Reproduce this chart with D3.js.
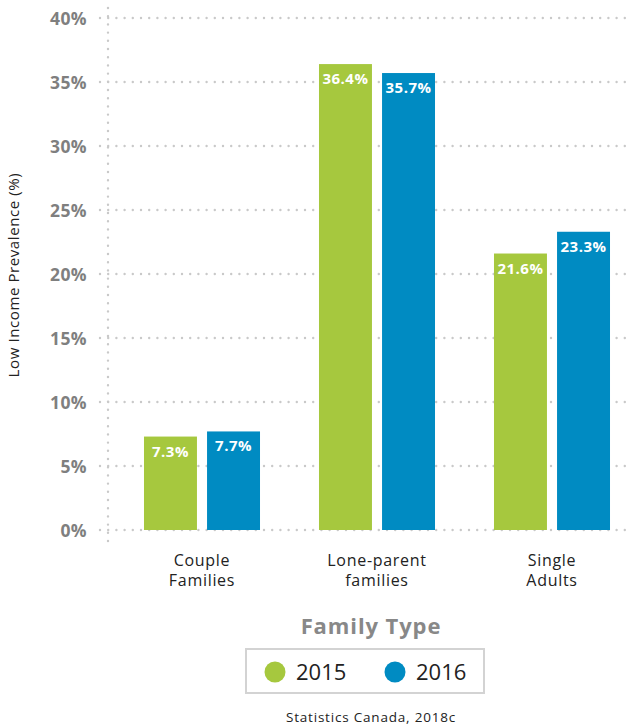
<!DOCTYPE html>
<html>
<head>
<meta charset="utf-8">
<script src="https://cdn.jsdelivr.net/npm/d3@7"></script>
<style>
  body { margin: 0; background: #fff; }
  svg { display: block; font-family: "Open Sans", "Noto Sans", sans-serif; }
</style>
</head>
<body>
<svg id="chart" width="635" height="727"></svg>
<script>
// Low income prevalence by family type
const categories = [["Couple", "Families"], ["Lone-parent", "families"], ["Single", "Adults"]];
const years = ["2015", "2016"];
const values2015 = [7.3, 36.4, 21.6];
const values2016 = [7.7, 35.7, 23.3];
const yTicks = [0, 5, 10, 15, 20, 25, 30, 35, 40];
const colors = ["#a6c83e", "#008bc2"];

const svg = d3.select("#chart");
const y = d3.scaleLinear().domain([0, 40]).range([530, 18]);
const x0 = d3.scaleBand().domain(d3.range(categories.length)).range([114.5, 639.5])
  .paddingInner(0.337).paddingOuter(0.1685);
const x1 = d3.scaleBand().domain(years).range([0, x0.bandwidth()]).paddingInner(0.16);

// horizontal dotted gridlines
svg.append("g").selectAll("line").data(yTicks).join("line")
  .attr("x1", 100).attr("x2", 632)
  .attr("y1", d => y(d)).attr("y2", d => y(d))
  .attr("stroke", "#c9c9c9").attr("stroke-width", 2.4)
  .attr("stroke-linecap", "round").attr("stroke-dasharray", "0 8.2");

// vertical dotted axis
svg.append("line")
  .attr("x1", 108).attr("x2", 108).attr("y1", 8).attr("y2", 541)
  .attr("stroke", "#c9c9c9").attr("stroke-width", 2.4)
  .attr("stroke-linecap", "round").attr("stroke-dasharray", "0 8.2");

// y tick labels
const yAxis = d3.axisLeft(y).tickValues(yTicks).tickFormat(d => d + "%").tickSize(0).tickPadding(0);
const ga = svg.append("g").attr("transform", "translate(87,0)").call(yAxis);
ga.select(".domain").remove();
ga.selectAll("text")
  .attr("fill", "#7f7f7f").attr("font-size", 17.5).attr("font-weight", 700)
  .attr("letter-spacing", 0.4)
  .attr("font-family", "'Open Sans', sans-serif").attr("dy", "0.35em");

// bars
const series = [values2015, values2016];
const groups = svg.append("g").selectAll("g").data(categories).join("g")
  .attr("transform", (d, i) => `translate(${x0(i)},0)`);

groups.each(function(c, i) {
  const g = d3.select(this);
  years.forEach((yr, k) => {
    const v = series[k][i];
    g.append("rect")
      .attr("x", x1(yr)).attr("width", x1.bandwidth())
      .attr("y", y(v)).attr("height", y(0) - y(v))
      .attr("fill", colors[k]);
    g.append("text")
      .attr("x", x1(yr) + x1.bandwidth() / 2).attr("y", y(v) + 20)
      .attr("text-anchor", "middle").attr("fill", "#fff")
      .attr("font-size", 15).attr("font-weight", 700).attr("letter-spacing", 0.5)
      .text(v.toFixed(1) + "%");
  });
  const t = g.append("text")
    .attr("x", x0.bandwidth() / 2).attr("y", 566)
    .attr("text-anchor", "middle").attr("fill", "#222")
    .attr("font-size", 16).attr("letter-spacing", 0.7);
  c.forEach((line, j) => t.append("tspan").attr("x", x0.bandwidth() / 2).attr("dy", j ? 20 : 0).text(line));
});

// y axis title
svg.append("text")
  .attr("transform", "translate(19,275) rotate(-90)")
  .attr("text-anchor", "middle").attr("fill", "#222")
  .attr("font-size", 15).attr("letter-spacing", 0.6)
  .text("Low Income Prevalence (%)");

// x axis title
svg.append("text")
  .attr("x", 371).attr("y", 634).attr("text-anchor", "middle")
  .attr("fill", "#888").attr("font-size", 22).attr("font-weight", 700).attr("letter-spacing", 0.9)
  .text("Family Type");

// legend
svg.append("rect")
  .attr("x", 246).attr("y", 649).attr("width", 238).attr("height", 44)
  .attr("fill", "#fff").attr("stroke", "#d3d3d3").attr("stroke-width", 2);
const legX = [275, 395];
years.forEach((yr, k) => {
  svg.append("circle").attr("cx", legX[k]).attr("cy", 672).attr("r", 10.5).attr("fill", colors[k]);
  svg.append("text").attr("x", legX[k] + 21).attr("y", 680)
    .attr("fill", "#222").attr("font-size", 22).text(yr);
});

// source note
svg.append("text")
  .attr("x", 371).attr("y", 722).attr("text-anchor", "middle")
  .attr("fill", "#222").attr("font-size", 13.5).attr("letter-spacing", 0.8)
  .text("Statistics Canada, 2018c");
</script>
</body>
</html>
